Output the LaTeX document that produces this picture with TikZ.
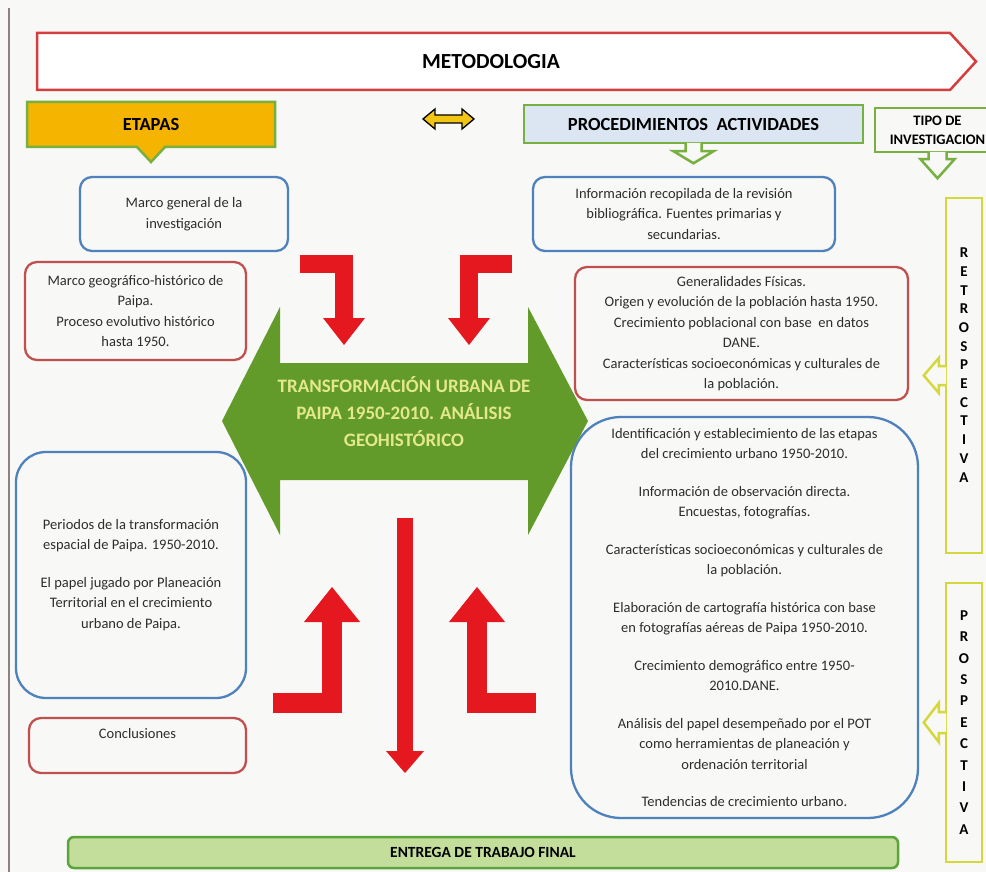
\documentclass[tikz,border=0pt]{standalone}
\usepackage{fontspec}
\setmainfont{Carlito}
\usepackage{tikz}
\usetikzlibrary{arrows.meta,positioning,shapes.callouts,calc}
\definecolor{pagebg}     {RGB}{248,248,246}
\definecolor{edgegray}   {RGB}{140,130,128}
\definecolor{boxblue}    {RGB}{79,129,189}
\definecolor{boxred}     {RGB}{192,80,77}
\definecolor{metred}     {RGB}{212,62,62}
\definecolor{etapgold}   {RGB}{244,180,0}
\definecolor{procblue}   {RGB}{220,230,242}
\definecolor{callgreen}  {RGB}{119,176,65}
\definecolor{geogreen}   {RGB}{98,155,42}
\definecolor{geotext}    {RGB}{228,232,140}
\definecolor{blockred}   {RGB}{228,24,30}
\definecolor{tipyellow}  {RGB}{212,216,60}
\definecolor{finalgreen} {RGB}{195,221,154}
\definecolor{finaledge}  {RGB}{91,163,59}
\definecolor{txtgray}    {RGB}{45,45,45}
\definecolor{dblyellow}  {RGB}{242,196,20}
\tikzset{
  box/.style     ={draw, line width=2.3pt, align=center, text=txtgray,
                   fill=pagebg, inner sep=2pt,
                   font=\fontsize{14.5}{20.5}\selectfont},
  bluebox/.style ={box, draw=boxblue, rounded corners=#1},
  bluebox/.default=12pt,
  redbox/.style  ={box, draw=boxred, rounded corners=12pt},
  headfont/.style={font=\fontsize{18.5}{21}\selectfont\bfseries},
  etapbox/.style ={rectangle callout, draw=callgreen, line width=2.5pt,
                   fill=etapgold, headfont, inner sep=0pt,
                   callout pointer width=28pt},
  procbox/.style ={draw=callgreen, line width=2.5pt, fill=procblue,
                   headfont, inner sep=0pt},
  tipobox/.style ={draw=callgreen, line width=2.5pt, fill=pagebg,
                   align=center, inner sep=0pt,
                   font=\fontsize{14.5}{19}\selectfont\bfseries},
  callptr/.style ={draw=callgreen, line width=2.5pt, fill=pagebg},
  vertbox/.style ={draw=tipyellow, line width=2.5pt, fill=pagebg,
                   minimum width=36pt, inner sep=0pt},
  vertptr/.style ={draw=tipyellow, line width=2.5pt, fill=pagebg},
  letters/.style ={align=center, inner sep=0pt,
                   font=\fontsize{15}{#1}\selectfont\bfseries},
  metline/.style ={draw=metred, line width=2.5pt, fill=white},
  blockarr/.style={draw=blockred, line width=#1},
  finalbox/.style={draw=finaledge, line width=2.5pt, fill=finalgreen,
                   rounded corners=6pt, inner sep=0pt,
                   font=\fontsize{15.5}{18}\selectfont\bfseries},
}

\begin{document}
\begin{tikzpicture}[x=1pt,y=-1pt]
  \useasboundingbox (0,0) rectangle (986,872);
  \clip (0,0) rectangle (986,872);
  \fill[pagebg] (0,0) rectangle (986,872);
  \draw[edgegray, line width=2.5pt] (9,8) -- (9,872);

  \draw[metline] (37,33) -- (950,33) -- (976,61.5) -- (950,90) -- (37,90) -- cycle;
  \node[font=\fontsize{21.5}{24}\selectfont\bfseries] (meto) at (491,61.5) {METODOLOGIA};

  \node[etapbox, minimum width=248pt, minimum height=45pt,
        callout absolute pointer={(151,162)}] (etapas) at (151,124.5) {ETAPAS};
  \node[procbox, minimum width=339pt, minimum height=38pt] (proc) at (693.5,124) {PROCEDIMIENTOS\ \ ACTIVIDADES};
  \node[tipobox, minimum width=125pt, minimum height=44pt] (tipo) at (937.5,130) {TIPO DE\\INVESTIGACION};
  \filldraw[callptr] ([xshift=-8pt,yshift=1.3pt]proc.south) -- ++(0,8.3) -- ++(-12,0)
    -- ++(20,12) -- ++(20,-12) -- ++(-12,0) -- ++(0,-8.3);
  \filldraw[callptr] ([xshift=-9pt,yshift=1.3pt]tipo.south) -- ++(0,7.3) -- ++(-8,0)
    -- ++(17,19) -- ++(17,-19) -- ++(-8,0) -- ++(0,-7.3);

  \fill[dblyellow, draw=black, line width=1.3pt] (423,119) -- (435,109) -- (435,115)
    -- (462,115) -- (462,109) -- (474,119) -- (462,129) -- (462,123)
    -- (435,123) -- (435,129) -- cycle;

  \node[bluebox, minimum width=208pt, minimum height=74pt] (mgen) at (184,214)
    {Marco general de la\\investigación};
  \node[redbox, minimum width=221pt, minimum height=98pt] (mgeo) at (135.5,311)
    {Marco geográfico-histórico de\\Paipa.\\Proceso evolutivo histórico\\hasta 1950.};
  \node[bluebox=30pt, minimum width=230pt, minimum height=246pt] (peri) at (131,575)
    {Periodos de la transformación\\espacial de Paipa. 1950-2010.\\[17pt]%
     El papel jugado por Planeación\\Territorial en el crecimiento\\urbano de Paipa.};
  \node[redbox, minimum width=217pt, minimum height=55pt, text depth=25pt] (concl) at (137.5,745.5)
    {Conclusiones};

  \node[bluebox, minimum width=302pt, minimum height=74pt] (info) at (684,214)
    {Información recopilada de la revisión\\bibliográfica. Fuentes primarias y\\secundarias.};
  \node[redbox, minimum width=333pt, minimum height=133pt] (gener) at (741.5,333.5)
    {Generalidades Físicas.\\Origen y evolución de la población hasta 1950.\\%
     Crecimiento poblacional con base \ en datos\\DANE.\\%
     Características socioeconómicas y culturales de\\la población.};
  \node[bluebox=50pt, minimum width=347pt, minimum height=401pt] (ident) at (744.5,617.5)
    {Identificación y establecimiento de las etapas\\del crecimiento urbano 1950-2010.\\[17pt]%
     Información de observación directa.\\Encuestas, fotografías.\\[17pt]%
     Características socioeconómicas y culturales de\\la población.\\[17pt]%
     Elaboración de cartografía histórica con base\\en fotografías aéreas de Paipa 1950-2010.\\[17pt]%
     Crecimiento demográfico entre 1950-\\2010.DANE.\\[17pt]%
     Análisis del papel desempeñado por el POT\\como herramientas de planeación y\\ordenación territorial\\[17pt]%
     Tendencias de crecimiento urbano.};

  \fill[geogreen] (222,421) -- (280,307) -- (280,363) -- (528,363) -- (528,307) -- (588,421)
    -- (528,535) -- (528,480) -- (280,480) -- (280,535) -- cycle;
  \node[align=center, text=geotext, font=\fontsize{19}{27}\selectfont\bfseries] (trans) at (404,412)
    {TRANSFORMACIÓN URBANA DE\\PAIPA 1950-2010. ANÁLISIS\\GEOHISTÓRICO};

  \coordinate (ulS) at (300,264);  \coordinate (ulE) at (344,345);
  \coordinate (urS) at (512,264);  \coordinate (urE) at (469,345);
  \coordinate (mdS) at (405,518);  \coordinate (mdE) at (405,773);
  \coordinate (llS) at (273,703);  \coordinate (llE) at (332,587);
  \coordinate (lrS) at (536,703);  \coordinate (lrE) at (477,587);
  \draw[blockarr=18pt, -{Triangle[width=42pt,length=27pt,line width=0pt]}] (ulS) -| (ulE);
  \draw[blockarr=18pt, -{Triangle[width=42pt,length=27pt,line width=0pt]}] (urS) -| (urE);
  \draw[blockarr=16pt, -{Triangle[width=38pt,length=22pt,line width=0pt]}] (mdS) -- (mdE);
  \draw[blockarr=20pt, -{Triangle[width=56pt,length=35pt,line width=0pt]}] (llS) -| (llE);
  \draw[blockarr=20pt, -{Triangle[width=56pt,length=35pt,line width=0pt]}] (lrS) -| (lrE);

  \node[vertbox, minimum height=355pt] (retrobox) at (964,375.5) {};
  \node[letters=18.7pt] (retro) at (964,365) {R\\E\\T\\R\\O\\S\\P\\E\\C\\T\\I\\V\\A};
  \filldraw[vertptr] ([xshift=1.3pt,yshift=9.5pt]retrobox.west) -- ++(-7.3,0) -- ++(0,-8)
    -- ++(-15,17.5) -- ++(15,17.5) -- ++(0,-8) -- ++(7.3,0);
  \node[vertbox, minimum height=279pt, letters=21.4pt] (prosp) at (964,722.5)
    {P\\R\\O\\S\\P\\E\\C\\T\\I\\V\\A};
  \filldraw[vertptr] ([xshift=1.3pt,yshift=10.5pt]prosp.west) -- ++(-7.3,0) -- ++(0,-9)
    -- ++(-15,19.5) -- ++(15,19.5) -- ++(0,-9) -- ++(7.3,0);

  \node[finalbox, minimum width=830pt, minimum height=31pt] (final) at (483,852.5)
    {ENTREGA DE TRABAJO FINAL};
\end{tikzpicture}
\end{document}
